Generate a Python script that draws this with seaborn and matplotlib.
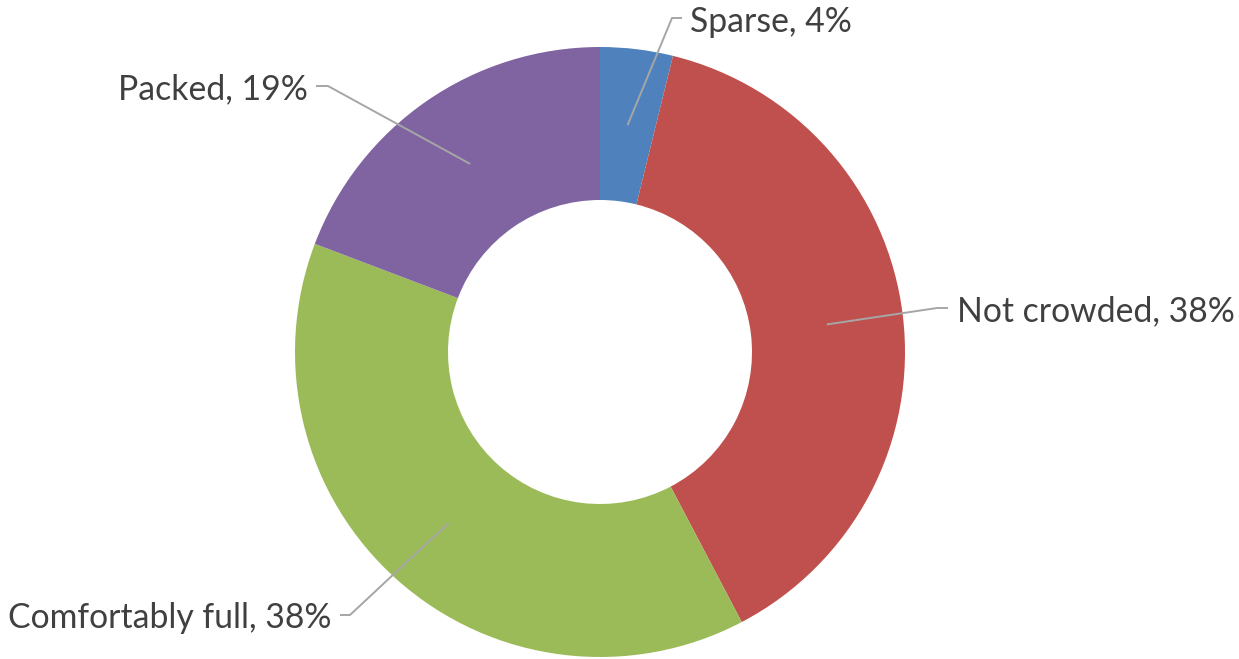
import matplotlib
matplotlib.use("Agg")
import matplotlib.pyplot as plt
import seaborn as sns
import numpy as np

categories = ["Sparse", "Not crowded", "Comfortably full", "Packed"]
counts = [1, 10, 10, 5]
pct_labels = ["4%", "38%", "38%", "19%"]
colors = ["#4F81BD", "#C0504D", "#9BBB59", "#8064A2"]

sns.set_theme(style="white")
plt.rcParams['font.family'] = ['Lato', 'DejaVu Sans']

W, H = 1239, 659
fig = plt.figure(figsize=(W / 100, H / 100), dpi=100)
ax = fig.add_axes([0, 0, 1, 1])

cx, cy = 600, H - 352
R, w = 305, 153
pal = sns.color_palette(colors)
wedges, _ = ax.pie(counts, startangle=90, counterclock=False, radius=R,
                   center=(cx, cy), colors=pal, frame=True,
                   wedgeprops=dict(width=w, linewidth=0))
ax.set_xlim(0, W)
ax.set_ylim(0, H)
ax.set_aspect('equal')
ax.axis('off')

# label layout: (elbow x, elbow y, end x, text x, baseline y, ha)
layout = [
    (672, 18, 682, 690, 32, 'left'),
    (937, 308, 948, 957, 321, 'left'),
    (350, 615, 340, 331, 628, 'right'),
    (328, 86, 316, 308, 99, 'right'),
]
rmid = R - w / 2
for wdg, cat, pct, (ex, ey, endx, tx, by, ha) in zip(wedges, categories, pct_labels, layout):
    ang = np.deg2rad((wdg.theta1 + wdg.theta2) / 2)
    sx, sy = cx + rmid * np.cos(ang), cy + rmid * np.sin(ang)
    ax.plot([sx, ex, endx], [sy, H - ey, H - ey], color='#A6A6A6', lw=1.4,
            solid_capstyle='butt')
    ax.text(tx, H - by, f"{cat}, {pct}", ha=ha, va='baseline',
            fontsize=24.3, color='#404040')

fig.savefig("out.png", dpi=100)
